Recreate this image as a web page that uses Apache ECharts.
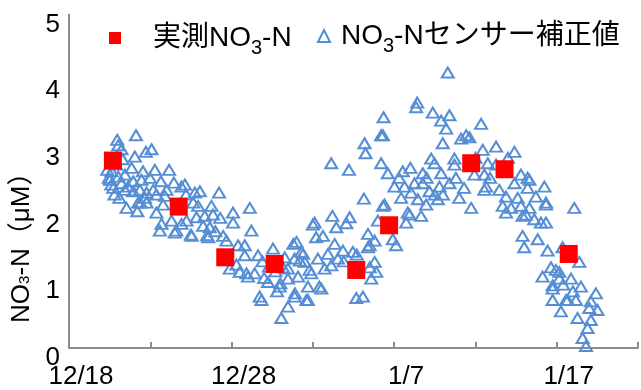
<!DOCTYPE html>
<html>
<head>
<meta charset="utf-8">
<script src="https://cdn.jsdelivr.net/npm/echarts@6/dist/echarts.min.js"></script>
<style>
html,body{margin:0;padding:0;background:#fff;}
#c{width:641px;height:390px;}
</style>
</head>
<body>
<div id="c"></div>
<script>
// x values are days since 12/18
const tickDays = [0, 10, 20, 30];
const tickLabels = ['12/18', '12/28', '1/7', '1/17'];

const measuredDays = [2.70, 6.75, 9.61, 12.65, 17.67, 19.69, 24.74, 26.79, 30.74];
const measuredValues = [2.81, 2.12, 1.36, 1.26, 1.17, 1.84, 2.77, 2.68, 1.41];

const sensorDays = [
 2.97,3.03,4.12,3.23,4.73,5.08,4.05,3.85,5.28,6.16,2.62,3.03,3.44,2.72,3.23,3.64,3.95,4.46,4.98,6.00,
 6.92,3.44,3.95,4.36,4.77,5.18,5.38,4.67,4.26,4.77,3.54,5.38,5.79,5.69,5.59,6.51,6.92,6.31,2.52,2.35,
 2.45,2.60,2.80,3.10,4.40,6.60,7.50,8.50,2.90,3.30,4.55,5.65,6.45,5.90,4.20,6.80,7.20,
 7.13,8.05,7.74,9.23,7.64,7.94,8.76,11.12,10.09,8.86,8.35,7.84,7.23,10.09,8.25,8.66,7.54,8.56,9.48,11.22,
 9.69,10.40,10.81,12.55,10.81,11.63,9.89,10.50,10.92,11.42,11.01,13.16,12.24,12.96,11.73,11.84,13.47,13.06,
 9.00,9.30,10.30,11.90,12.30,12.00,12.70,12.80,13.00,13.80,13.90,14.20,14.40,14.70,14.90,15.00,15.20,
 18.18,18.24,19.20,16.13,17.22,19.20,18.14,19.31,16.20,17.26,17.06,15.11,16.44,19.00,13.99,16.34,18.39,18.80,18.49,
 14.29,13.27,13.88,14.50,15.31,15.93,16.85,17.46,16.54,16.13,14.80,15.72,13.47,18.80,18.90,18.59,14.09,13.47,
 14.70,15.52,13.88,14.60,17.67,18.08,15.62,18.39,15.40,18.50,16.90,17.70,
 23.30,21.42,21.35,22.38,22.89,23.40,23.20,19.35,19.31,22.99,24.12,24.43,23.71,22.28,22.48,19.61,20.53,21.76,22.89,
 21.25,20.02,20.64,21.76,22.79,23.40,22.17,21.05,20.43,21.46,21.97,22.69,19.41,20.95,21.66,20.74,19.92,20.12,
 24.74,24.94,23.71,20.84,20.30,21.00,22.00,22.50,23.00,23.80,24.30,24.00,
 25.35,24.63,25.45,26.27,27.40,25.76,25.66,25.55,26.47,27.40,28.21,29.24,28.21,27.60,26.88,28.72,29.34,26.68,
 27.19,27.80,28.32,26.88,27.90,28.62,29.03,29.34,27.90,28.00,28.83,29.44,29.13,29.65,30.16,29.75,29.75,30.57,
 26.27,26.88,25.55,25.00,25.90,27.00,27.80,
 28.32,31.08,28.11,30.36,31.39,29.95,30.16,30.88,29.75,31.49,32.41,30.67,31.18,32.10,30.26,32.51,31.28,32.10,
 31.90,31.59,31.80,29.34,30.40,31.00,32.00
];
const sensorValues = [
 3.12,3.04,3.19,2.98,2.94,2.98,2.87,2.70,2.67,2.67,2.65,2.57,2.60,2.40,2.47,2.42,2.50,2.52,2.55,2.37,
 2.42,2.37,2.35,2.37,2.33,2.37,2.30,2.25,2.18,2.18,2.10,2.03,2.15,1.86,1.76,1.73,1.86,1.91,2.52,2.67,
 2.55,2.45,2.30,2.25,2.18,1.76,1.70,1.69,2.75,2.83,2.65,2.50,2.48,2.28,2.05,2.10,2.30,
 2.45,2.35,2.33,2.33,2.18,2.13,2.13,2.10,2.03,2.00,1.98,1.96,1.91,1.88,1.83,1.81,1.68,1.66,1.68,1.76,
 1.61,1.54,1.54,1.49,1.39,1.39,1.19,1.14,1.12,1.12,1.07,1.21,0.99,0.92,0.77,0.72,0.62,0.45,
 1.75,1.95,1.25,1.30,1.22,1.05,1.15,0.85,0.97,1.56,0.82,1.31,1.41,0.72,1.12,1.85,1.66,
 3.07,2.92,3.19,2.77,2.67,2.77,2.24,2.13,1.98,1.96,1.87,1.88,1.81,1.91,1.59,1.56,1.71,1.61,1.54,
 1.44,1.36,1.34,1.29,1.34,1.41,1.46,1.44,1.34,1.24,1.17,1.19,1.19,1.29,1.14,1.04,1.07,1.04,
 0.92,0.89,0.77,0.72,0.75,0.77,1.68,1.51,0.92,1.21,1.30,1.40,
 4.13,3.68,3.61,3.53,3.41,3.49,3.29,3.46,3.19,3.07,3.14,3.19,2.84,2.84,2.77,2.62,2.65,2.62,2.62,
 2.47,2.42,2.42,2.47,2.42,2.47,2.35,2.33,2.25,2.23,2.15,2.23,2.15,2.00,1.98,1.88,1.63,1.54,
 2.10,2.60,2.75,2.03,2.55,2.70,2.55,2.30,2.30,2.55,2.40,2.25,
 3.36,3.16,2.97,3.02,2.94,2.77,2.42,2.37,2.37,2.47,2.55,2.42,2.40,2.25,2.27,2.27,2.18,2.13,
 2.10,2.13,2.10,2.03,1.98,1.93,1.88,1.88,1.68,1.51,1.63,1.46,1.07,1.21,1.14,0.89,0.72,0.72,
 2.75,2.65,2.60,2.85,2.55,2.85,2.60,
 2.52,2.10,2.00,1.51,1.29,1.17,1.04,1.04,0.94,0.92,0.82,0.72,0.72,0.70,0.55,0.57,0.45,0.42,
 0.30,0.15,0.03,2.15,0.95,0.85,0.60
];

const nameMeasured = '実測NO3-N';
const nameSensor = 'NO3-Nセンサー補正値';

const FONT = "'Liberation Sans', 'Noto Sans CJK JP', sans-serif";
const legendRich = { s: { fontSize: 20, fontFamily: FONT, color: '#000', padding: [20, 0, 0, 0] } };
const nameRich = { s: { fontSize: 15, fontFamily: FONT, color: '#000', padding: [6, 0, 0, 0] } };
function subFmt(name) { return name.replace('NO3', 'NO{s|3}'); }

const chart = echarts.init(document.getElementById('c'), null, { renderer: 'canvas' });

const measuredData = measuredDays.map((d, i) => [d, measuredValues[i]]);
const sensorData = sensorDays.map((d, i) => [d, sensorValues[i]]);

chart.setOption({
  animation: false,
  backgroundColor: '#fff',
  grid: { left: 69, right: 1, top: 14.5, bottom: 38, containLabel: false },
  legend: [
    {
      data: [nameMeasured], left: 109, top: 24, padding: 0,
      itemWidth: 12, itemHeight: 12,
      formatter: subFmt,
      textStyle: { fontSize: 28, fontFamily: FONT, color: '#000', padding: [0, 0, 0, 27], rich: legendRich }
    },
    {
      data: [nameSensor], left: 317, top: 22, padding: 0,
      itemWidth: 12, itemHeight: 12,
      formatter: subFmt,
      textStyle: { fontSize: 28, fontFamily: FONT, color: '#000', padding: [0, 0, 0, 6], rich: legendRich }
    }
  ],
  xAxis: {
    type: 'value', min: 0, max: 35, interval: 5,
    splitLine: { show: false },
    axisLine: { lineStyle: { color: '#8c8c8c', width: 2 } },
    axisTick: { inside: true, length: 6, lineStyle: { color: '#8c8c8c', width: 2 } },
    axisLabel: {
      fontSize: 26, fontFamily: FONT, color: '#000', margin: 16, padding: [0, 0, 0, 24],
      showMaxLabel: true,
      formatter: v => { const k = tickDays.indexOf(v); return k >= 0 ? tickLabels[k] : ''; }
    }
  },
  yAxis: {
    type: 'value', min: 0, max: 5, interval: 1,
    splitLine: { show: false },
    axisLine: { show: true, lineStyle: { color: '#8c8c8c', width: 2 } },
    axisTick: { show: false },
    axisLabel: { fontSize: 26, fontFamily: FONT, color: '#000', margin: 9, verticalAlign: 'top', lineHeight: 20 },
    name: 'NO{s|3}-N（μM）',
    nameLocation: 'middle', nameGap: 30,
    nameTextStyle: { fontSize: 26, fontFamily: FONT, color: '#000', padding: [0, 120, 0, 0], rich: nameRich }
  },
  series: [
    {
      name: nameSensor, type: 'scatter', data: sensorData,
      symbol: 'triangle', symbolSize: [12, 10],
      itemStyle: { color: 'rgba(255,255,255,0)', borderColor: '#558ED5', borderWidth: 2, opacity: 1 },
      z: 2
    },
    {
      name: nameMeasured, type: 'scatter', data: measuredData,
      symbol: 'rect', symbolSize: 18,
      itemStyle: { color: '#FF0000', opacity: 1 },
      z: 3
    }
  ]
});
</script>
</body>
</html>
